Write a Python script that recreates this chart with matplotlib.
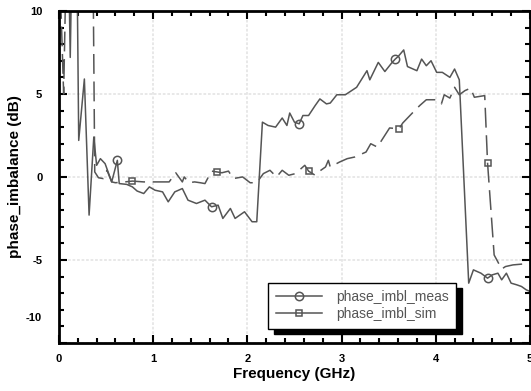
import matplotlib
matplotlib.use('Agg')
import matplotlib.pyplot as plt
from matplotlib.ticker import MultipleLocator
import numpy as np

plt.rcParams['font.family'] = ['Liberation Sans', 'DejaVu Sans']

# measured phase imbalance (GHz, dB)
meas_f = [0.0, 0.10, 0.12, 0.14, 0.19, 0.21, 0.27, 0.32, 0.37, 0.40, 0.44, 0.49,
          0.56, 0.62, 0.64, 0.72, 0.78, 0.83, 0.90, 0.96, 1.02, 1.10, 1.16, 1.23,
          1.31, 1.37, 1.46, 1.55, 1.62, 1.69, 1.74, 1.82, 1.87, 1.97, 2.05, 2.10,
          2.16, 2.22, 2.30, 2.37, 2.42, 2.45, 2.50, 2.55, 2.59, 2.65, 2.72, 2.77,
          2.84, 2.88, 2.95, 3.04, 3.16, 3.27, 3.30, 3.39, 3.46, 3.53, 3.57, 3.60,
          3.66, 3.70, 3.80, 3.85, 3.90, 3.95, 4.01, 4.07, 4.15, 4.20, 4.25, 4.35,
          4.40, 4.48, 4.55, 4.60, 4.66, 4.70, 4.75, 4.80, 4.86, 4.91, 4.96, 5.00]
meas_db = [14, 14, 7.2, 14, 14, 2.2, 5.9, -2.3, 2.4, 0.7, 1.1, 0.8,
           -0.3, 1.0, -0.4, -0.45, -0.6, -0.85, -1.0, -0.6, -0.8, -0.9, -1.5, -0.9,
           -0.7, -1.4, -1.6, -1.4, -1.8, -1.7, -2.5, -1.9, -2.5, -2.1, -2.7, -2.7,
           3.3, 3.1, 3.0, 3.55, 3.1, 3.85, 3.3, 3.2, 3.7, 3.7, 4.3, 4.7,
           4.4, 4.45, 4.95, 4.95, 5.4, 6.4, 5.85, 6.9, 6.35, 6.85, 7.1, 7.25,
           7.65, 6.65, 6.4, 7.1, 6.7, 7.0, 6.3, 6.3, 6.0, 6.5, 5.85, -6.4,
           -5.6, -5.8, -6.1, -5.9, -5.8, -6.2, -5.8, -6.4, -6.5, -6.6, -6.8, -6.9]

# simulated phase imbalance (GHz, dB)
sim_f = [0.0, 0.05, 0.08, 0.36, 0.38, 0.42, 0.47, 0.51, 0.56, 0.60, 0.70, 0.78,
         0.90, 1.00, 1.10, 1.17, 1.24, 1.31, 1.33, 1.38, 1.44, 1.50, 1.55, 1.62,
         1.68, 1.73, 1.80, 1.85, 1.95, 2.03, 2.10, 2.17, 2.24, 2.31, 2.37, 2.44,
         2.51, 2.61, 2.65, 2.72, 2.78, 2.83, 2.86, 2.88, 2.98, 3.06, 3.14, 3.26,
         3.31, 3.38, 3.51, 3.61, 3.65, 3.76, 3.83, 3.90, 4.01, 4.06, 4.09, 4.15,
         4.20, 4.25, 4.31, 4.37, 4.41, 4.52, 4.55, 4.62, 4.70, 4.74, 4.82, 4.92, 5.00]
sim_db = [14, 5.0, 14, 14, 0.3, -0.05, -0.1, 0.4, -0.3, -0.35, -0.3, -0.25,
          -0.3, -0.3, -0.3, -0.3, 0.25, -0.3, 0.0, -0.35, -0.3, -0.35, -0.4, 0.35,
          0.3, 0.25, 0.35, -0.1, 0.0, -0.35, -0.35, 0.2, 0.4, 0.0, 0.4, 0.1,
          0.2, 0.7, 0.35, 0.1, 0.4, 0.6, 1.0, 0.6, 0.9, 1.1, 1.2, 1.5,
          2.0, 1.8, 2.95, 2.9, 3.25, 3.9, 4.3, 4.65, 4.65, 4.4, 4.95, 4.75,
          5.4, 4.95, 5.2, 5.35, 4.8, 4.9, 0.85, -4.7, -5.55, -5.4, -5.3, -5.25, -5.2]

meas_marks = [0.62, 1.62, 2.55, 3.57, 4.55]
sim_marks = [0.78, 1.68, 2.65, 3.61, 4.55]

xticks = [0, 1, 2, 3, 4, 5]
yticks = [-10, -5, 0, 5, 10]

gray = '#555555'

fig = plt.figure(figsize=(5.31, 3.91), dpi=100)
ax = fig.add_axes([0.111, 0.123, 0.887, 0.849])

meas_idx = [meas_f.index(v) for v in meas_marks]
sim_idx = [sim_f.index(v) for v in sim_marks]

ax.plot(meas_f, meas_db, color=gray, lw=1.1, marker='o', markevery=meas_idx,
        ms=6, mfc='none', mec=gray, mew=1.1, label='phase_imbl_meas')
ax.plot(sim_f, sim_db, color=gray, lw=1.1, dashes=(13, 5), marker='s',
        markevery=sim_idx, ms=5, mfc='none', mec=gray, mew=1.1,
        label='phase_imbl_sim')

ax.set_xlim(0, 5)
ax.set_ylim(-10, 10)
ax.set_xticks(xticks)
ax.set_yticks(yticks)
ax.xaxis.set_minor_locator(MultipleLocator(0.2))
ax.yaxis.set_minor_locator(MultipleLocator(1))
ax.grid(True, which='major', color='#e6e6e6', ls=(0, (1.5, 1)), lw=1.3)
ax.set_axisbelow(True)

ax.tick_params(which='both', direction='in', top=True, right=True, width=1.5)
ax.tick_params(which='major', length=6)
ax.tick_params(which='minor', length=3.5)
ax.tick_params(axis='y', pad=12)
ax.tick_params(axis='x', pad=8)
for s in ax.spines.values():
    s.set_linewidth(2)

ax.set_xticklabels([str(v) for v in xticks], fontsize=8, fontweight='bold')
ax.set_yticklabels([str(v) if v != -10 else '' for v in yticks],
                   fontsize=8, fontweight='bold')
ax.annotate('-10', xy=(0, -10), xycoords=('axes fraction', 'data'),
            xytext=(-17, 25), textcoords='offset pixels', ha='right',
            va='center', fontsize=8, fontweight='bold')

ax.set_xlabel('Frequency (GHz)', fontsize=11, fontweight='bold', labelpad=2)
ax.set_ylabel('phase_imbalance (dB)', fontsize=11, fontweight='bold', labelpad=6)

leg = ax.legend(loc='lower left', bbox_to_anchor=(0.43, 0.022), fontsize=10,
                handlelength=3.3, handletextpad=1.0, borderpad=0.55,
                labelspacing=0.2, fancybox=False, framealpha=1,
                edgecolor='black',
                shadow={'color': 'black', 'alpha': 1, 'ox': 4, 'oy': -4})
leg.get_frame().set_linewidth(1)
for t in leg.get_texts():
    t.set_color(gray)
for h in leg.get_lines():
    h.set_linestyle('-')

fig.savefig('out.png', dpi=100)
